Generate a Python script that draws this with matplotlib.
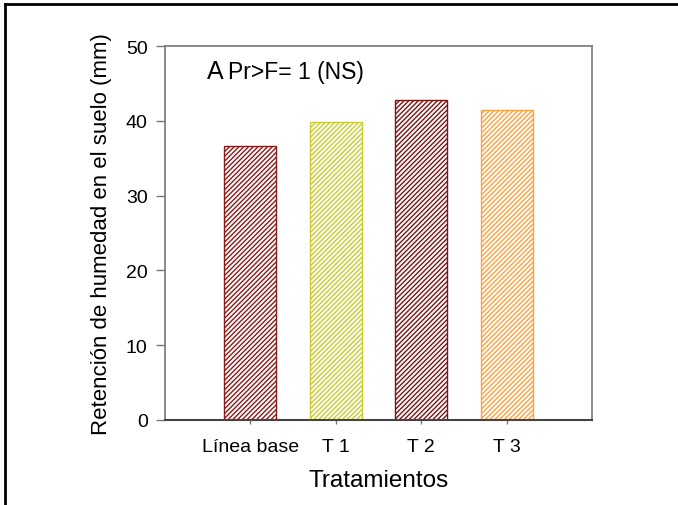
import matplotlib
matplotlib.use("Agg")
import matplotlib.pyplot as plt
from matplotlib.lines import Line2D

plt.rcParams['font.family'] = ['Liberation Sans', 'DejaVu Sans']
plt.rcParams['hatch.linewidth'] = 1.0

# data
tratamientos = ["Línea base", "T 1", "T 2", "T 3"]
retencion = [36.6, 39.9, 42.8, 41.5]
colores = ["#8B1A1A", "#C8CC30", "#7A1414", "#FFA040"]
y_ticks = [0, 10, 20, 30, 40, 50]

fig = plt.figure(figsize=(6.78, 5.06), dpi=100)
ax = fig.add_axes([0.2434, 0.168, 0.6298, 0.739])

pos = range(1, len(tratamientos) + 1)
for p, val, col in zip(pos, retencion, colores):
    ax.bar(p, val, width=0.61, facecolor="white", edgecolor=col,
           hatch="///////", linewidth=1.0)

ax.set_xlim(0, 5)
ax.set_ylim(0, 50)
ax.set_xticks(list(pos))
ax.set_xticklabels(tratamientos, fontsize=14)
ax.set_yticks(y_ticks)
ax.set_yticklabels([str(v) for v in y_ticks], fontsize=14)

ax.tick_params(axis="y", direction="out", length=6.5, width=1, color="#777777", pad=6)
ax.tick_params(axis="x", direction="out", length=3, width=1, color="#777777", pad=10)

for s in ["left", "right", "top"]:
    ax.spines[s].set_color("#777777")
    ax.spines[s].set_linewidth(1.2)
ax.spines["bottom"].set_color("#444444")
ax.spines["bottom"].set_linewidth(1.5)

ax.set_ylabel("Retención de humedad en el suelo (mm)", fontsize=16, labelpad=10)
ax.set_xlabel("Tratamientos", fontsize=17.5, labelpad=10)

ax.text(0.098, 0.914, "A", transform=ax.transAxes, fontsize=18,
        va="baseline", ha="left")
ax.text(0.148, 0.914, "Pr>F= 1 (NS)", transform=ax.transAxes, fontsize=16.5,
        va="baseline", ha="left")

# frame lines at the top and left of the picture
fig.add_artist(Line2D([0.008, 1.0], [0.991, 0.991], color="black", linewidth=2,
                      transform=fig.transFigure))
fig.add_artist(Line2D([0.008, 0.008], [0.0, 0.991], color="black", linewidth=2,
                      transform=fig.transFigure))

fig.savefig("out.png", dpi=100)
